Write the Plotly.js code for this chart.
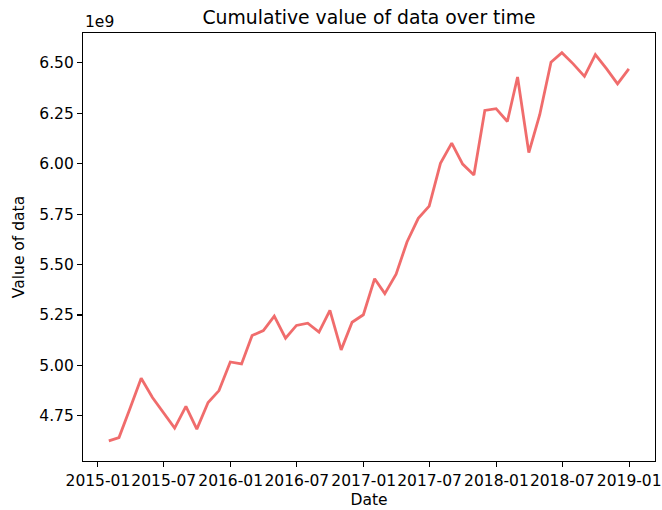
<!DOCTYPE html>
<html>
<head>
<meta charset="utf-8">
<script src="https://cdn.plot.ly/plotly-3.0.1.min.js"></script>
<style>html,body{margin:0;padding:0;background:#fff;}#chart{width:662px;height:510px;}</style>
</head>
<body>
<div id="chart"></div>
<script>
// Month-end dates
const dates = [
  "2015-01-31","2015-02-28","2015-03-31","2015-04-30","2015-05-31","2015-06-30",
  "2015-07-31","2015-08-31","2015-09-30","2015-10-31","2015-11-30","2015-12-31",
  "2016-01-31","2016-02-29","2016-03-31","2016-04-30","2016-05-31","2016-06-30",
  "2016-07-31","2016-08-31","2016-09-30","2016-10-31","2016-11-30","2016-12-31",
  "2017-01-31","2017-02-28","2017-03-31","2017-04-30","2017-05-31","2017-06-30",
  "2017-07-31","2017-08-31","2017-09-30","2017-10-31","2017-11-30","2017-12-31",
  "2018-01-31","2018-02-28","2018-03-31","2018-04-30","2018-05-31","2018-06-30",
  "2018-07-31","2018-08-31","2018-09-30","2018-10-31","2018-11-30","2018-12-31"
];
// Cumulative value of data
const values = [
  4.626e9, 4.642e9, 4.790e9, 4.936e9, 4.841e9, 4.765e9,
  4.689e9, 4.797e9, 4.684e9, 4.816e9, 4.875e9, 5.017e9,
  5.007e9, 5.148e9, 5.173e9, 5.244e9, 5.135e9, 5.198e9,
  5.209e9, 5.165e9, 5.273e9, 5.077e9, 5.214e9, 5.251e9,
  5.430e9, 5.356e9, 5.452e9, 5.612e9, 5.729e9, 5.790e9,
  6.002e9, 6.102e9, 5.998e9, 5.944e9, 6.264e9, 6.273e9,
  6.209e9, 6.430e9, 6.055e9, 6.243e9, 6.503e9, 6.550e9,
  6.495e9, 6.433e9, 6.541e9, 6.470e9, 6.396e9, 6.470e9
];
const yTickVals = [4.75e9, 5.00e9, 5.25e9, 5.50e9, 5.75e9, 6.00e9, 6.25e9, 6.50e9];
const yTickText = ["4.75", "5.00", "5.25", "5.50", "5.75", "6.00", "6.25", "6.50"];

const font = {family: "DejaVu Sans, sans-serif", size: 15.5, color: "#000"};

const trace = {
  x: dates, y: values, type: "scatter", mode: "lines",
  line: {color: "rgba(238,92,92,0.9)", width: 2.8},
  hoverinfo: "skip"
};

const axisCommon = {
  showline: true, linecolor: "#000", linewidth: 1.1, mirror: true,
  ticks: "outside", ticklen: 5, tickwidth: 1.1, tickcolor: "#000",
  showgrid: false, zeroline: false, tickfont: font, automargin: false
};

const layout = {
  width: 662, height: 510,
  margin: {l: 83, r: 7, t: 33, b: 49},
  paper_bgcolor: "#fff", plot_bgcolor: "#fff",
  font: font,
  showlegend: false,
  title: {
    text: "Cumulative value of data over time",
    font: {family: "DejaVu Sans, sans-serif", size: 18.8, color: "#000"},
    xref: "paper", x: 0.5, xanchor: "center",
    yref: "container", y: 1 - 17 / 510, yanchor: "middle"
  },
  xaxis: Object.assign({}, axisCommon, {
    type: "date",
    range: ["2014-11-21", "2019-03-13"],
    tick0: "2015-01-01", dtick: "M6", tickformat: "%Y-%m",
    tickangle: 0, ticklabelstandoff: 0,
    title: {text: "Date", font: font, standoff: 5}
  }),
  yaxis: Object.assign({}, axisCommon, {
    range: [4.526e9, 6.648e9],
    tickmode: "array", tickvals: yTickVals, ticktext: yTickText,
    title: {text: "Value of data", font: font, standoff: 10}
  }),
  annotations: [{
    text: "1e9", xref: "paper", yref: "paper", x: 0, y: 1,
    xanchor: "left", yanchor: "bottom", showarrow: false,
    font: font, yshift: 0
  }]
};

Plotly.newPlot("chart", [trace], layout, {displayModeBar: false, staticPlot: true});
</script>
</body>
</html>
